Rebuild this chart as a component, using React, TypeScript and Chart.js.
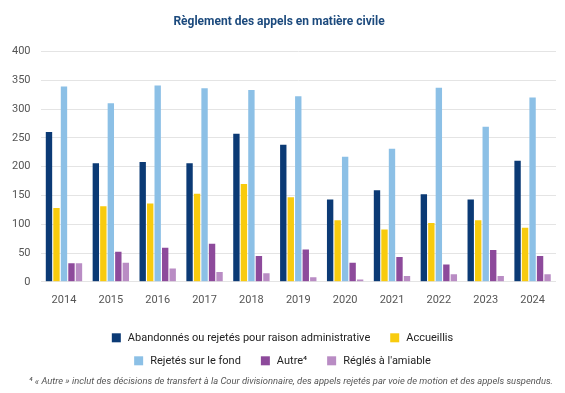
import React, { useEffect, useRef } from "react";
import { Chart, registerables } from "chart.js";

Chart.register(...registerables);

const years = ["2014", "2015", "2016", "2017", "2018", "2019", "2020", "2021", "2022", "2023", "2024"];
const abandonnes = [260, 206, 208, 206, 257, 238, 143, 159, 152, 143, 210];
const accueillis = [128, 131, 136, 153, 170, 147, 107, 91, 102, 107, 94];
const rejetesFond = [339, 310, 341, 336, 333, 322, 217, 231, 337, 269, 320];
const autre = [32, 52, 59, 66, 45, 56, 33, 43, 30, 55, 45];
const regles = [32, 33, 23, 17, 15, 8, 4, 10, 13, 10, 13];

const seriesLabels = [
  "Abandonnés ou rejetés pour raison administrative",
  "Accueillis",
  "Rejetés sur le fond",
  "Autre⁴",
  "Réglés à l'amiable",
];
const seriesColors = ["#0b3a75", "#f8cb0e", "#8cc0e6", "#8d4a9b", "#b98cc4"];
const legendRows = [[0, 1], [2, 3, 4]];

const titleText = "Règlement des appels en matière civile";
const footnoteText =
  "⁴ « Autre » inclut des décisions de transfert à la Cour divisionnaire, des appels rejetés par voie de motion et des appels suspendus.";

const FONT = "Roboto, 'Noto Sans', sans-serif";

// Two-row legend plus footnote, drawn under the x axis.
const bottomTextPlugin = {
  id: "bottomText",
  afterDraw(chart: any) {
    const ctx = chart.ctx as CanvasRenderingContext2D;
    const area = chart.chartArea;
    const cx = chart.width / 2;
    const box = 9;
    const gap = 7;
    const spacing = 20;
    ctx.save();
    ctx.font = `11px ${FONT}`;
    ctx.textBaseline = "middle";
    ctx.textAlign = "left";
    legendRows.forEach((row, r) => {
      const y = area.bottom + 56 + r * 23;
      const widths = row.map((i) => box + gap + ctx.measureText(seriesLabels[i]).width);
      const total = widths.reduce((a, b) => a + b, 0) + spacing * (row.length - 1);
      let x = cx - total / 2;
      row.forEach((i, k) => {
        ctx.fillStyle = seriesColors[i];
        ctx.fillRect(x, y - box / 2, box, box);
        ctx.fillStyle = "#222";
        ctx.fillText(seriesLabels[i], x + box + gap, y + 0.5);
        x += widths[k] + spacing;
      });
    });
    // Footnote sits right-aligned near the chart's right edge
    ctx.font = `italic 9.4px ${FONT}`;
    ctx.fillStyle = "#555";
    ctx.textAlign = "right";
    ctx.fillText(footnoteText, chart.width - 12, area.bottom + 100);
    ctx.restore();
  },
};

export default function App() {
  const canvasRef = useRef<HTMLCanvasElement | null>(null);

  useEffect(() => {
    document.body.style.margin = "0";
    const canvas = canvasRef.current;
    if (!canvas) return;
    const datasets = [abandonnes, accueillis, rejetesFond, autre, regles].map((data, i) => ({
      label: seriesLabels[i],
      data,
      backgroundColor: seriesColors[i],
      borderWidth: 0,
      categoryPercentage: 0.8,
      barPercentage: 0.85,
    }));
    const chart = new Chart(canvas, {
      type: "bar",
      data: { labels: years, datasets },
      plugins: [bottomTextPlugin],
      options: {
        responsive: false,
        animation: false,
        layout: { padding: { left: 2, right: 9, bottom: 74, top: 0 } },
        plugins: {
          legend: { display: false },
          tooltip: { enabled: false },
          title: {
            display: true,
            text: titleText,
            color: "#1c4a7d",
            font: { family: FONT, size: 12, weight: "bold" },
            padding: { top: 15, bottom: 22 },
          },
        },
        scales: {
          x: {
            grid: { display: false, drawTicks: false },
            border: { display: false },
            ticks: { color: "#555", font: { family: FONT, size: 11 }, padding: 12 },
          },
          y: {
            min: 0,
            max: 400,
            ticks: { stepSize: 50, color: "#555", font: { family: FONT, size: 11 }, padding: 10 },
            grid: { color: "#e4e4e4", drawTicks: false, lineWidth: 1 },
            border: { display: false },
          },
        },
      },
    });
    return () => chart.destroy();
  }, []);

  return <canvas ref={canvasRef} width={565} height={393} style={{ display: "block" }} />;
}
